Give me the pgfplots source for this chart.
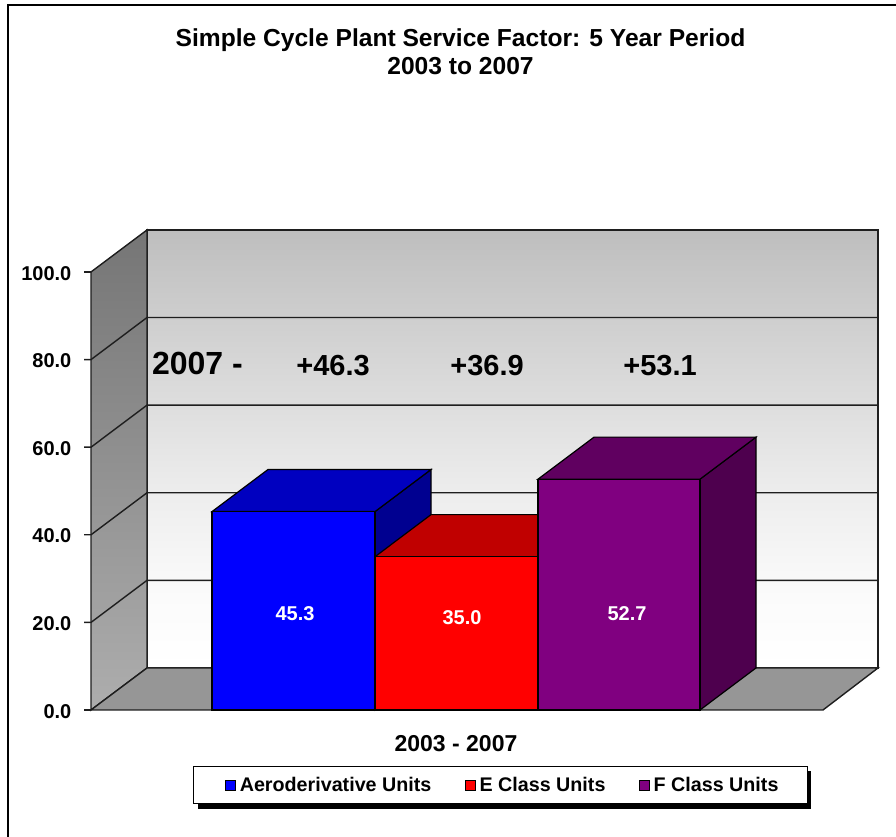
\documentclass[border=0pt]{standalone}
\usepackage{pgfplots}
\pgfplotsset{compat=1.18}
\usepackage{fontspec}
\setmainfont{Liberation Sans}
\pgfdeclareverticalshading{backwall}{100bp}{rgb(0bp)=(1,1,1); rgb(25bp)=(1,1,1); rgb(33bp)=(.985,.985,.985); rgb(45bp)=(.93,.93,.93); rgb(60bp)=(.84,.84,.84); rgb(75bp)=(.745,.745,.745); rgb(100bp)=(.745,.745,.745)}
\pgfdeclareverticalshading{sidewall}{100bp}{rgb(0bp)=(.68,.68,.68); rgb(25bp)=(.68,.68,.68); rgb(75bp)=(.46,.46,.46); rgb(100bp)=(.46,.46,.46)}
\definecolor{bluefront}{RGB}{0,0,255}
\definecolor{bluetop}{RGB}{0,0,192}
\definecolor{blueside}{RGB}{0,0,144}
\definecolor{redfront}{RGB}{255,0,0}
\definecolor{redtop}{RGB}{192,0,0}
\definecolor{purplefront}{RGB}{128,0,128}
\definecolor{purpletop}{RGB}{96,0,96}
\definecolor{purpleside}{RGB}{78,0,78}
\definecolor{floorgray}{RGB}{150,150,150}
\definecolor{gridc}{RGB}{30,30,30}
\newcommand{\fs}[1]{\fontsize{#1}{#1}\selectfont\bfseries}
\begin{document}
\begin{tikzpicture}
\useasboundingbox (0,0) rectangle (896pt,837pt);
\begin{axis}[
  at={(0,0)}, anchor=south west,
  scale only axis, width=896pt, height=837pt,
  xmin=0, xmax=896, ymin=-28.995, ymax=162.10,
  clip=false,
  axis x line=none,
  axis y line=left,
  axis line style={draw=none,-},
  tick style={draw=none},
  ytick={0,20,40,60,80,100},
  yticklabel style={font=\fs{20}, anchor=east, xshift=77pt, yshift=-1.2pt,
    /pgf/number format/assume math mode=true,
    /pgf/number format/fixed, /pgf/number format/fixed zerofill,
    /pgf/number format/precision=1},
  legend style={at={(axis cs:193,-12.79)}, anchor=north west,
    draw=black, line width=1.2pt, fill=white, font=\fs{19.7},
    inner xsep=27pt, inner ysep=2pt,
    legend columns=3,
    nodes={inner xsep=2pt, inner ysep=8.5pt},
    /tikz/column 1/.style={column sep=0pt},
    /tikz/column 2/.style={column sep=27pt},
    /tikz/column 4/.style={column sep=27pt},
    /tikz/column 6/.style={column sep=0pt}},
  legend cell align=left,
]
% outer frame
\addplot[black, line width=2pt, forget plot] coordinates {(7.5,-28.995)(7.5,161)(896,161)};
% walls and floor
\addplot[shading=backwall, draw=gridc, line width=1.4pt, forget plot] coordinates {(147,9.6)(147,109.6)(878,109.6)(878,9.6)} -- cycle;
\addplot[shading=sidewall, draw=gridc, line width=1.4pt, forget plot] coordinates {(91,0)(147,9.6)(147,109.6)(91,100)} -- cycle;
\addplot[fill=floorgray, draw=gridc, line width=1.4pt, forget plot] coordinates {(91,0)(823,0)(878,9.6)(147,9.6)} -- cycle;
% grid lines: back wall, side wall, tick marks
\pgfplotsinvokeforeach{20,40,60,80}{
  \addplot[gridc, line width=1.4pt, forget plot] coordinates {(84,#1)(91,#1)(147,#1+9.6)(878,#1+9.6)};
}
\addplot[gridc, line width=1.4pt, forget plot] coordinates {(84,100)(91,100)};
\addplot[gridc, line width=1.4pt, forget plot] coordinates {(84,0)(91,0)};
% blue bar
\addplot[fill=blueside, draw=black, line width=1.2pt, forget plot] coordinates {(375,45.3)(431,54.9)(431,9.6)(375,0)} -- cycle;
\addplot[fill=bluetop, draw=black, line width=1.2pt, forget plot] coordinates {(212,45.3)(375,45.3)(431,54.9)(268,54.9)} -- cycle;
% red bar
\addplot[fill=redtop, draw=black, line width=1.2pt, forget plot] coordinates {(375,35.0)(538,35.0)(594,44.6)(431,44.6)} -- cycle;
% purple bar
\addplot[fill=purpleside, draw=black, line width=1.2pt, forget plot] coordinates {(700,52.7)(756,62.3)(756,9.6)(700,0)} -- cycle;
\addplot[fill=purpletop, draw=black, line width=1.2pt, forget plot] coordinates {(538,52.7)(700,52.7)(756,62.3)(594,62.3)} -- cycle;
% fronts
\addplot[fill=bluefront, draw=black, line width=1.2pt, forget plot] coordinates {(212,0)(212,45.3)(375,45.3)(375,0)} -- cycle;
\addplot[fill=redfront, draw=black, line width=1.2pt, forget plot] coordinates {(375,0)(375,35.0)(538,35.0)(538,0)} -- cycle;
\addplot[fill=purplefront, draw=black, line width=1.2pt, forget plot] coordinates {(538,0)(538,52.7)(700,52.7)(700,0)} -- cycle;
% legend shadow
\fill[black] (axis cs:198,-13.9) rectangle (axis cs:811,-22.6);
% legend
\pgfplotsset{legend image code/.code={\path (-4pt,0) (12pt,0);\draw[#1,draw=black,line width=0.9pt] (0pt,-5pt) rectangle (10pt,5pt);}}
\addlegendimage{fill=bluefront}
\addlegendentry{Aeroderivative Units}
\addlegendimage{fill=redfront}
\addlegendentry{E Class Units}
\addlegendimage{fill=purplefront}
\addlegendentry{F Class Units}
% text
\node[font=\fs{24.6}, align=center] at (axis cs:460.5,150.3) {Simple Cycle Plant Service Factor: 5 Year Period\\[3.5pt]2003 to 2007};
\node[font=\fs{23}] at (axis cs:456,-7.6) {2003 - 2007};
\node[font=\fs{32}, anchor=west] at (axis cs:148.5,79) {2007 -};
\node[font=\fs{29}] at (axis cs:333,78.7) {+46.3};
\node[font=\fs{29}] at (axis cs:487,78.7) {+36.9};
\node[font=\fs{29}] at (axis cs:660,78.7) {+53.1};
\node[font=\fs{20}, white] at (axis cs:295,22.1) {45.3};
\node[font=\fs{20}, white] at (axis cs:462,21) {35.0};
\node[font=\fs{20}, white] at (axis cs:627,22) {52.7};
\end{axis}
\end{tikzpicture}
\end{document}
